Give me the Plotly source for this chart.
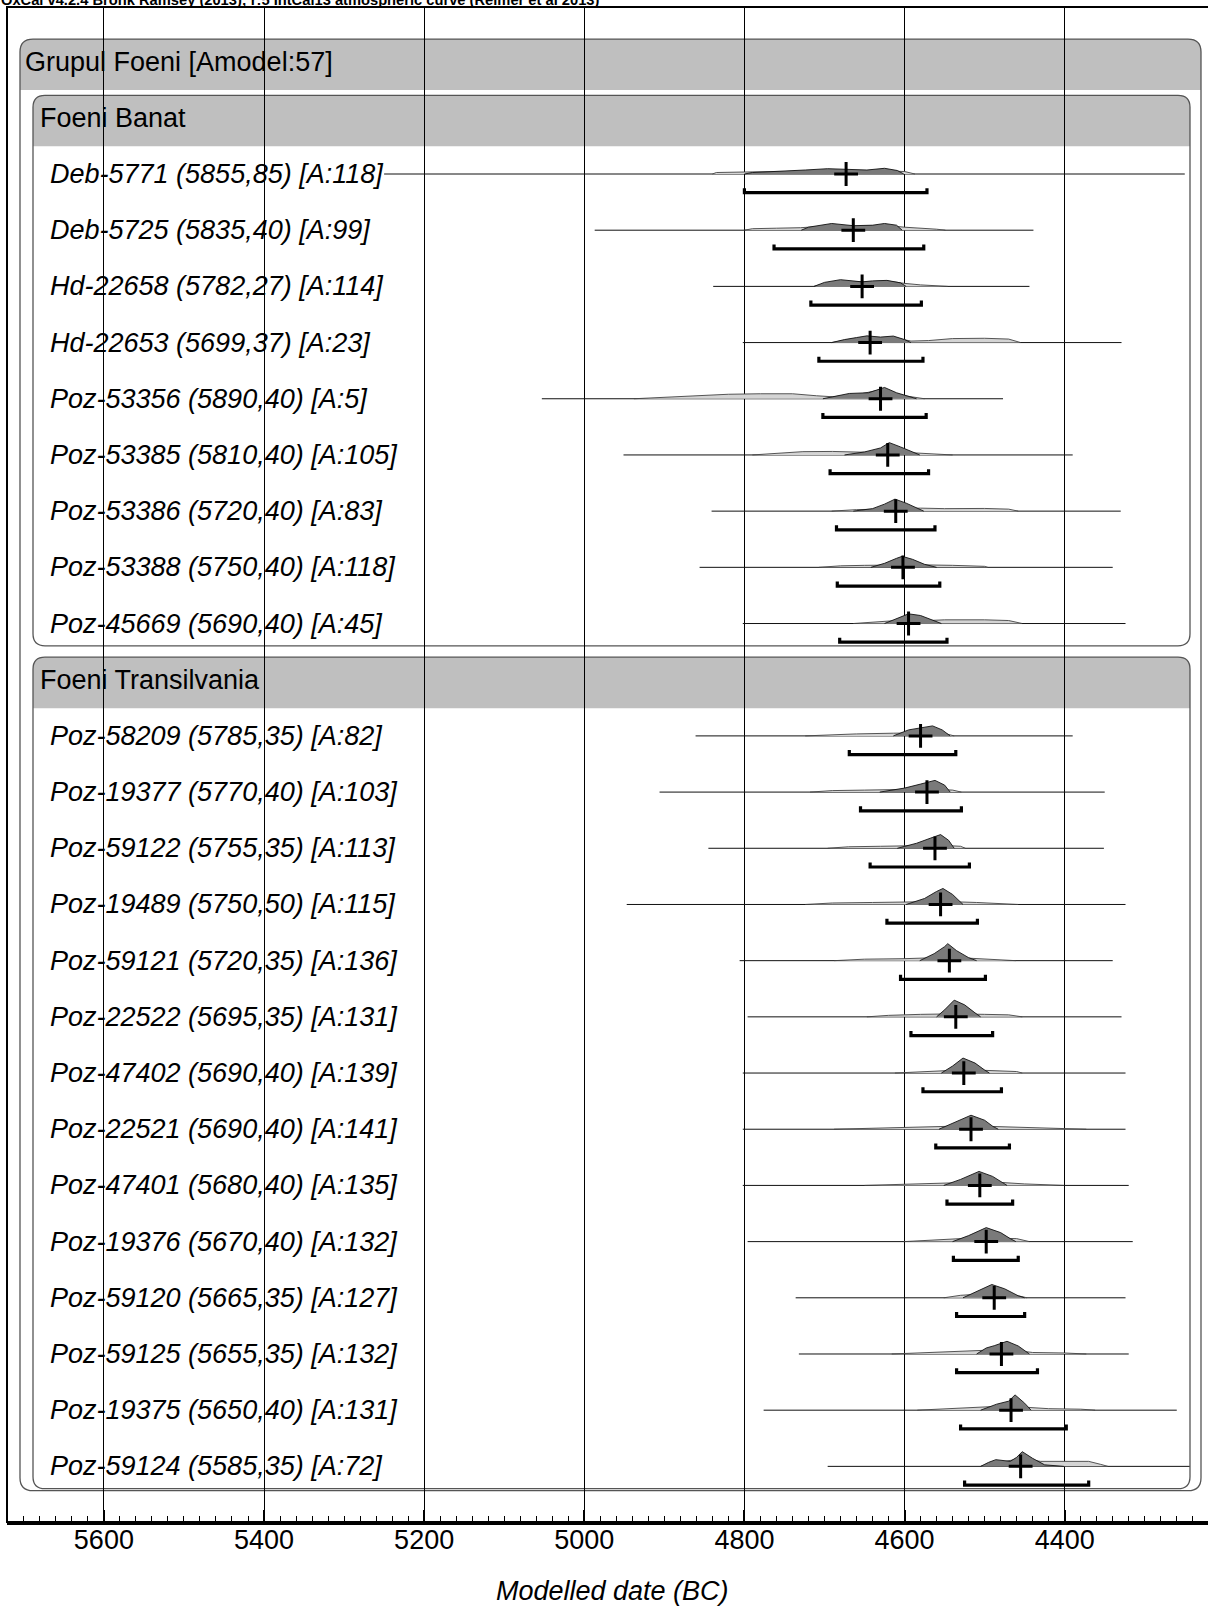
import plotly.graph_objects as go

# ---------------- data ----------------
title_text = "OxCal v4.2.4 Bronk Ramsey (2013); r:5 IntCal13 atmospheric curve (Reimer et al 2013)"
axis_title = "Modelled date (BC)"
tick_vals = [5600, 5400, 5200, 5000, 4800, 4600, 4400]

group_label = "Grupul Foeni [Amodel:57]"
phase_labels = ["Foeni Banat", "Foeni Transilvania"]

sample_labels = [
    "Deb-5771 (5855,85) [A:118]", "Deb-5725 (5835,40) [A:99]", "Hd-22658 (5782,27) [A:114]",
    "Hd-22653 (5699,37) [A:23]", "Poz-53356 (5890,40) [A:5]", "Poz-53385 (5810,40) [A:105]",
    "Poz-53386 (5720,40) [A:83]", "Poz-53388 (5750,40) [A:118]", "Poz-45669 (5690,40) [A:45]",
    "Poz-58209 (5785,35) [A:82]", "Poz-19377 (5770,40) [A:103]", "Poz-59122 (5755,35) [A:113]",
    "Poz-19489 (5750,50) [A:115]", "Poz-59121 (5720,35) [A:136]", "Poz-22522 (5695,35) [A:131]",
    "Poz-47402 (5690,40) [A:139]", "Poz-22521 (5690,40) [A:141]", "Poz-47401 (5680,40) [A:135]",
    "Poz-19376 (5670,40) [A:132]", "Poz-59120 (5665,35) [A:127]", "Poz-59125 (5655,35) [A:132]",
    "Poz-19375 (5650,40) [A:131]", "Poz-59124 (5585,35) [A:72]",
]
sample_phase = [0] * 9 + [1] * 14

line_from = [5250, 4987, 4839, 4802, 5053, 4951, 4841, 4856, 4802,
             4861, 4906, 4845, 4947, 4806, 4796, 4802, 4802, 4802, 4796, 4736, 4732, 4776, 4696]
line_to = [4250, 4439, 4444, 4329, 4477, 4390, 4330, 4340, 4324,
           4390, 4350, 4351, 4324, 4340, 4329, 4324, 4324, 4320, 4315, 4324, 4320, 4260, 4244]
medians = [4673, 4664, 4653, 4643, 4630, 4621, 4611, 4602, 4595,
           4580, 4572, 4562, 4555, 4544, 4536, 4526, 4517, 4506, 4498, 4488, 4479, 4467, 4455]
range95_from = [4800, 4763, 4717, 4707, 4702, 4693, 4685, 4684, 4681,
                4669, 4655, 4643, 4622, 4605, 4592, 4577, 4561, 4547, 4539, 4535, 4535, 4530, 4525]
range95_to = [4572, 4576, 4579, 4577, 4573, 4570, 4562, 4556, 4547,
              4536, 4529, 4519, 4509, 4499, 4490, 4479, 4469, 4465, 4458, 4450, 4434, 4398, 4370]

# likelihood (light) distributions: years and relative probability
prior_years = [
    [4840, 4835, 4800, 4760, 4720, 4680, 4640, 4600, 4587],
    [4800, 4790, 4760, 4730, 4700, 4660, 4625, 4600, 4560, 4549],
    [4713, 4700, 4680, 4650, 4622, 4600, 4580, 4546],
    [4691, 4670, 4647, 4614, 4592, 4570, 4540, 4500, 4470, 4455],
    [4938, 4900, 4850, 4820, 4780, 4740, 4710, 4690, 4660, 4630, 4600, 4575],
    [4790, 4760, 4727, 4690, 4660, 4640, 4610, 4580, 4540],
    [4691, 4660, 4630, 4600, 4580, 4550, 4500, 4470, 4458],
    [4707, 4680, 4650, 4620, 4580, 4540, 4500, 4496],
    [4664, 4640, 4610, 4570, 4550, 4500, 4470, 4453],
    [4724, 4700, 4660, 4614, 4580, 4550, 4538],
    [4718, 4690, 4650, 4610, 4570, 4540, 4529],
    [4696, 4670, 4630, 4590, 4555, 4530, 4524],
    [4724, 4690, 4640, 4590, 4550, 4510, 4470, 4458],
    [4688, 4650, 4600, 4560, 4520, 4490, 4461],
    [4647, 4620, 4580, 4540, 4500, 4470, 4453],
    [4612, 4580, 4545, 4510, 4480, 4460, 4453],
    [4688, 4640, 4580, 4540, 4500, 4460, 4420, 4373],
    [4650, 4600, 4560, 4520, 4480, 4450, 4401],
    [4601, 4560, 4530, 4490, 4460, 4444],
    [4551, 4530, 4500, 4470, 4455, 4447],
    [4616, 4570, 4530, 4490, 4460, 4440, 4400, 4373],
    [4584, 4550, 4510, 4480, 4450, 4420, 4380, 4362],
    [4505, 4480, 4455, 4430, 4400, 4370, 4355, 4346],
]
prior_prob = [
    [0, 1.5, 2, 2.5, 3, 3.5, 3.5, 2.5, 0],
    [0, 1.5, 2, 2.5, 4, 4, 5, 3, 1, 0],
    [0, 3, 5.5, 4.5, 5.5, 3, 1.5, 0],
    [0, 3, 5, 5, 1.5, 2, 4, 4.3, 3.5, 0],
    [0, 1.5, 3, 4.5, 5, 5, 3, 2, 4, 9, 3, 0],
    [0, 1.5, 3.3, 3.5, 3, 2.5, 3, 2, 0],
    [0, 1.5, 2, 2.5, 3, 2.5, 2.7, 2, 0],
    [0, 1.5, 2, 2.5, 2.5, 2, 1, 0],
    [0, 1.5, 3, 3, 3.7, 3.7, 3, 0],
    [0, 1, 2, 2.7, 3, 2.5, 0],
    [0, 1.5, 2, 2.5, 3, 2, 0],
    [0, 1.5, 2, 2.5, 3, 2, 0],
    [0, 1.5, 2, 2.5, 3, 2, 1, 0],
    [0, 1.5, 2, 3, 2.5, 1.5, 0],
    [0, 1.5, 2.5, 3, 2.5, 2, 0],
    [0, 1.5, 2.5, 3, 2.5, 1.5, 0],
    [0, 1, 1.5, 3, 3, 2, 1, 0],
    [0, 1, 2, 3, 3, 1.5, 0],
    [0, 1.5, 3, 3.5, 3, 0],
    [0, 2.5, 4, 3.5, 1.5, 0],
    [0, 1.5, 3, 4, 3.5, 1.5, 1, 0],
    [0, 1.5, 3, 4, 3, 1.5, 1, 0],
    [0, 4, 8, 5, 5, 5, 2, 0],
]
# modelled (dark) distributions: years and relative probability
post_years = [
    [4800, 4790, 4768, 4740, 4724, 4696, 4672, 4647, 4625, 4609, 4601],
    [4729, 4720, 4691, 4664, 4640, 4625, 4610, 4603],
    [4713, 4700, 4680, 4660, 4653, 4640, 4622, 4605, 4598],
    [4691, 4675, 4660, 4647, 4630, 4614, 4600, 4592],
    [4702, 4690, 4669, 4645, 4630, 4625, 4610, 4592, 4585],
    [4675, 4650, 4630, 4619, 4605, 4590, 4581],
    [4664, 4640, 4625, 4612, 4598, 4585, 4576],
    [4642, 4625, 4610, 4603, 4590, 4575, 4560],
    [4625, 4610, 4595, 4580, 4565, 4554],
    [4614, 4595, 4580, 4565, 4553, 4543],
    [4631, 4600, 4580, 4562, 4550, 4543],
    [4609, 4585, 4568, 4555, 4545, 4538],
    [4598, 4575, 4560, 4552, 4540, 4527],
    [4581, 4563, 4550, 4546, 4535, 4520, 4510],
    [4560, 4550, 4538, 4525, 4512, 4505],
    [4554, 4540, 4527, 4512, 4500, 4494],
    [4557, 4540, 4517, 4500, 4490, 4483],
    [4551, 4530, 4507, 4490, 4478, 4472],
    [4540, 4520, 4498, 4480, 4468, 4461],
    [4527, 4510, 4491, 4475, 4458, 4450],
    [4510, 4498, 4488, 4472, 4458, 4444],
    [4505, 4485, 4470, 4462, 4450, 4442],
    [4505, 4495, 4486, 4468, 4460, 4453, 4440, 4425, 4401],
]
post_prob = [
    [0, 1.5, 2.3, 3, 4, 5.3, 5, 4, 5.7, 3.5, 0],
    [0, 3, 6.7, 4.5, 5, 6.7, 5, 0],
    [0, 4, 6.7, 5.5, 4.5, 5.5, 6, 3.5, 0],
    [0, 3, 5, 6.7, 5.5, 6.5, 3, 0],
    [0, 2, 5.3, 6, 10, 11.3, 6, 1.5, 0],
    [0, 3, 7, 12.3, 8, 2.5, 0],
    [0, 2.5, 7, 12, 8, 3, 0],
    [0, 4, 9, 11, 8, 3, 0],
    [0, 5, 9.7, 8, 3, 0],
    [0, 6, 8, 10, 6, 0],
    [0, 4, 8, 11.7, 7, 0],
    [0, 5, 10, 13.7, 8, 0],
    [0, 6, 13, 16, 10, 0],
    [0, 7, 14, 17, 10, 3, 0],
    [0, 7, 16.7, 12, 4, 0],
    [0, 7, 15, 10, 3, 0],
    [0, 6, 14, 9, 3, 0],
    [0, 6, 14, 9, 3, 0],
    [0, 6, 14, 9, 3, 0],
    [0, 6, 13.3, 9, 2, 0],
    [0, 6, 8.3, 12.7, 8, 0],
    [0, 6, 9, 15.3, 7, 0],
    [0, 4, 6.7, 5, 9, 14.7, 8, 1.5, 0],
]

# ---------------- geometry ----------------
W, H = 1208, 1607
ML, MR, MT, MB = 7, 0, 7, 85
PLOT_W = W - ML - MR
PLOT_H = H - MT - MB
X_RANGE = [5721, 4221]
PITCH = 56.19            # pixels per row
Y_TOP = -0.972
Y_BOT = Y_TOP + PLOT_H / PITCH
FONT = "Liberation Sans, Arial, sans-serif"
FS = 27

# row layout: group header, phase header, samples...
group_row = 0
phase_rows = []
sample_rows = []
r = 1
for p in range(len(phase_labels)):
    phase_rows.append(r)
    r += 1
    for i, ph in enumerate(sample_phase):
        if ph == p:
            sample_rows.append(r)
            r += 1


def py(row):
    return MT + (row - Y_TOP) * PITCH


def to_paper(x, y):
    return (x - ML) / PLOT_W, 1 - (y - MT) / PLOT_H


def path_from(points_cmds):
    out = []
    for cmd, pts in points_cmds:
        s = cmd
        for (x, y) in pts:
            px_, py_ = to_paper(x, y)
            s += f" {px_:.5f},{py_:.5f}"
        out.append(s)
    return " ".join(out) + " Z"


def rrect(x0, y0, x1, y1, rad, bottom_round=True):
    cmds = [("M", [(x0 + rad, y0)]), ("L", [(x1 - rad, y0)]),
            ("Q", [(x1, y0), (x1, y0 + rad)])]
    if bottom_round:
        cmds += [("L", [(x1, y1 - rad)]), ("Q", [(x1, y1), (x1 - rad, y1)]),
                 ("L", [(x0 + rad, y1)]), ("Q", [(x0, y1), (x0, y1 - rad)])]
    else:
        cmds += [("L", [(x1, y1)]), ("L", [(x0, y1)])]
    cmds += [("L", [(x0, y0 + rad)]), ("Q", [(x0, y0), (x0 + rad, y0)])]
    return path_from(cmds)


HDR_UP, HDR_DN, BOX_DN = 22.5, 28.5, 22.3
GREY = "#bfbfbf"
OUTL = "#555555"
shapes = []
# outer group box
ox0, ox1 = 20, 1201
shapes.append(dict(type="path", xref="paper", yref="paper", layer="below",
                   path=rrect(ox0, py(group_row) - HDR_UP, ox1, py(group_row) + HDR_DN, 12, False),
                   fillcolor=GREY, line=dict(width=0)))
shapes.append(dict(type="path", xref="paper", yref="paper", layer="below",
                   path=rrect(ox0, py(group_row) - HDR_UP, ox1, py(sample_rows[-1]) + BOX_DN + 2, 13),
                   fillcolor="rgba(0,0,0,0)", line=dict(color=OUTL, width=1.3)))
# phase boxes
ix0, ix1 = 33, 1190
for p, prow in enumerate(phase_rows):
    last = max(sample_rows[i] for i, ph in enumerate(sample_phase) if ph == p)
    shapes.append(dict(type="path", xref="paper", yref="paper", layer="below",
                       path=rrect(ix0, py(prow) - HDR_UP, ix1, py(prow) + HDR_DN, 12, False),
                       fillcolor=GREY, line=dict(width=0)))
    shapes.append(dict(type="path", xref="paper", yref="paper", layer="below",
                       path=rrect(ix0, py(prow) - HDR_UP, ix1, py(last) + BOX_DN, 12),
                       fillcolor="rgba(0,0,0,0)", line=dict(color=OUTL, width=1.3)))
# plot frame (left/top)
shapes.append(dict(type="rect", xref="paper", yref="paper", x0=0, x1=1.02, y0=0, y1=to_paper(0, 7)[1],
                   line=dict(color="black", width=2), layer="above"))

fig = go.Figure()

# horizontal range lines
lx, ly = [], []
for i in range(len(sample_labels)):
    lx += [line_from[i], line_to[i], None]
    ly += [sample_rows[i], sample_rows[i], None]
fig.add_trace(go.Scatter(x=lx, y=ly, mode="lines", line=dict(color="#111111", width=1),
                         hoverinfo="skip"))

# likelihood distributions
dx, dy = [], []
for i in range(len(sample_labels)):
    dx += list(prior_years[i]) + [None]
    dy += [sample_rows[i] - v / PITCH for v in prior_prob[i]] + [None]
fig.add_trace(go.Scatter(x=dx, y=dy, mode="lines", fill="toself", fillcolor="#d4d4d4",
                         line=dict(color="#444444", width=0.9), hoverinfo="skip"))

# posterior distributions
dx, dy = [], []
for i in range(len(sample_labels)):
    dx += list(post_years[i]) + [None]
    dy += [sample_rows[i] - v / PITCH for v in post_prob[i]] + [None]
fig.add_trace(go.Scatter(x=dx, y=dy, mode="lines", fill="toself", fillcolor="#7a7a7a",
                         line=dict(color="#111111", width=0.9), hoverinfo="skip"))

# 95% range brackets
BR_OFF = 18.7 / PITCH
BR_UP = 4.5 / PITCH
bx, by = [], []
for i in range(len(sample_labels)):
    yb = sample_rows[i] + BR_OFF
    bx += [range95_from[i], range95_from[i], range95_to[i], range95_to[i], None]
    by += [yb - BR_UP, yb, yb, yb - BR_UP, None]
fig.add_trace(go.Scatter(x=bx, y=by, mode="lines", line=dict(color="black", width=3.2),
                         hoverinfo="skip"))

# medians
fig.add_trace(go.Scatter(x=medians, y=sample_rows, mode="markers",
                         marker=dict(symbol="cross-thin", size=17, line=dict(color="black", width=3)),
                         hoverinfo="skip"))

annotations = []
annotations.append(dict(text=group_label, xref="paper", yref="y", x=to_paper(23, 0)[0], y=group_row,
                        xanchor="left", yanchor="middle", showarrow=False,
                        font=dict(family=FONT, size=FS, color="black")))
for p, prow in enumerate(phase_rows):
    annotations.append(dict(text=phase_labels[p], xref="paper", yref="y", x=to_paper(38, 0)[0], y=prow,
                            xanchor="left", yanchor="middle", showarrow=False,
                            font=dict(family=FONT, size=FS, color="black")))
for i, lab in enumerate(sample_labels):
    annotations.append(dict(text=f"<i>{lab}</i>", xref="paper", yref="y", x=to_paper(48, 0)[0],
                            y=sample_rows[i], xanchor="left", yanchor="middle", showarrow=False,
                            font=dict(family=FONT, size=FS, color="black")))
annotations.append(dict(text=f"<i>{axis_title}</i>", xref="paper", yref="paper",
                        x=to_paper(612, 0)[0], y=to_paper(0, 1591)[1], xanchor="center",
                        yanchor="middle", showarrow=False,
                        font=dict(family=FONT, size=FS, color="black")))
annotations.append(dict(text=f"<b>{title_text}</b>", xref="paper", yref="paper",
                        x=to_paper(-1, 0)[0], y=1, xanchor="left", yanchor="bottom", yshift=-3,
                        showarrow=False, font=dict(family=FONT, size=14.7, color="black")))

fig.update_layout(
    width=W, height=H,
    margin=dict(l=ML, r=MR, t=MT, b=MB, pad=0),
    paper_bgcolor="white", plot_bgcolor="rgba(0,0,0,0)",
    showlegend=False, hovermode=False,
    shapes=shapes, annotations=annotations,
    xaxis=dict(range=X_RANGE, tickvals=tick_vals, ticktext=[str(t) for t in tick_vals],
               showgrid=True, gridcolor="black", gridwidth=1, zeroline=False,
               showline=True, linecolor="black", linewidth=3,
               ticks="inside", ticklen=12, tickwidth=2, tickcolor="black",
               ticklabelstandoff=-8,
               tickfont=dict(family=FONT, size=FS, color="black"),
               minor=dict(dtick=20, ticks="inside", ticklen=6, tickwidth=1, tickcolor="black",
                          showgrid=False, tick0=5600)),
    yaxis=dict(range=[Y_BOT, Y_TOP], visible=False, showgrid=False, zeroline=False),
)

fig.write_html("out.html", config={"displayModeBar": False, "staticPlot": True},
               post_script="document.body.style.margin='0';document.body.style.padding='0';")
